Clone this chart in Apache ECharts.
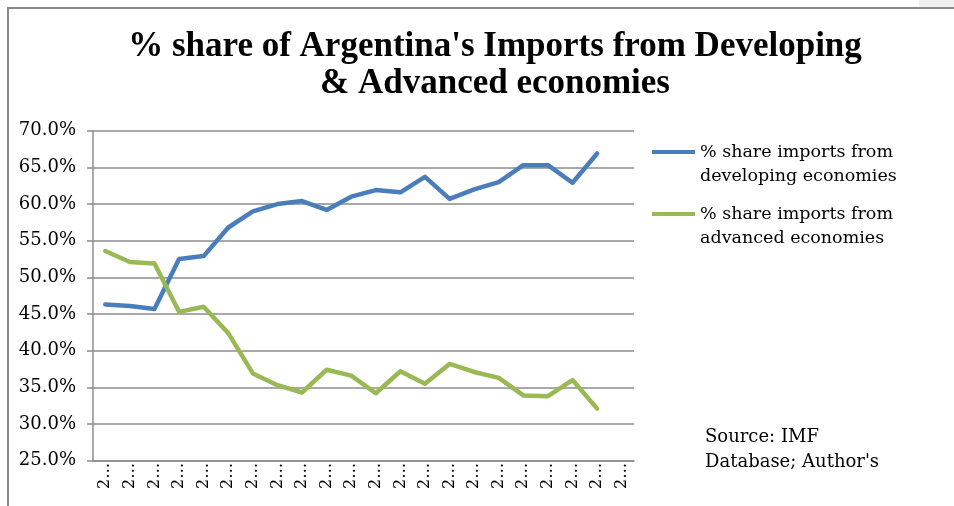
<!DOCTYPE html>
<html lang="en">
  <head>
    <meta charset="UTF-8" />
    <script src="https://cdn.jsdelivr.net/npm/echarts@6/dist/echarts.min.js"></script>
    <title>Argentina imports share</title>
    <style>
      html, body { margin: 0; padding: 0; background: #fff; }
      #container { width: 954px; height: 506px; }
    </style>
  </head>
  <body>
    <div id="container"></div>
    <script>
      // categories (years, shown truncated like the original)
      const years = [
        "2000", "2001", "2002", "2003", "2004", "2005", "2006", "2007",
        "2008", "2009", "2010", "2011", "2012", "2013", "2014", "2015",
        "2016", "2017", "2018", "2019", "2020", "2021",
      ];

      const developing = [
        46.3, 46.1, 45.7, 52.5, 52.9, 56.8, 59.0, 60.0, 60.4, 59.2, 61.0,
        61.9, 61.6, 63.7, 60.7, 62.0, 63.0, 65.3, 65.3, 62.9, 66.9,
      ];

      const advanced = [
        53.6, 52.1, 51.9, 45.3, 46.0, 42.4, 36.9, 35.3, 34.3, 37.4, 36.6,
        34.2, 37.2, 35.5, 38.2, 37.1, 36.3, 33.9, 33.8, 36.0, 32.1,
      ];

      const yTicks = { min: 25, max: 70, step: 5 };

      const nameDev = "% share imports from developing economies";
      const nameAdv = "% share imports from advanced economies";

      const serif = "DejaVu Serif";
      const gridColor = "#8c8c8c";

      const chart = echarts.init(document.getElementById("container"));

      // swatch drawn at the top of a taller box so it lines up with the first text line
      const legendBase = {
        orient: "vertical",
        left: 647,
        icon: "path://M0,0L43,0L43,4L0,4Z M0,28L0.01,28L0.01,28.01Z",
        itemWidth: 43,
        itemHeight: 28,
        itemGap: 0,
        selectedMode: false,
        formatter: (n) => n.replace(" from ", " from\n"),
        textStyle: {
          fontFamily: serif,
          fontSize: 17.5,
          color: "#000",
          lineHeight: 24,
        },
      };

      const option = {
        animation: false,
        title: [
          {
            text: "% share of Argentina's Imports from Developing\n& Advanced economies",
            left: 490,
            top: 23,
            textAlign: "center",
            textStyle: {
              fontFamily: "Liberation Serif",
              fontWeight: "bold",
              fontSize: 35,
              lineHeight: 37,
              color: "#000",
            },
          },
          {
            text: "Source: IMF\nDatabase; Author's",
            left: 700,
            top: 420,
            textStyle: {
              fontFamily: serif,
              fontWeight: "normal",
              fontSize: 18,
              lineHeight: 25,
              color: "#000",
            },
          },
        ],
        legend: [
          Object.assign({}, legendBase, { top: 135, data: [nameDev] }),
          Object.assign({}, legendBase, { top: 197, data: [nameAdv] }),
        ],
        graphic: [
          {
            type: "rect",
            shape: { x: 919, y: 0, width: 35, height: 8 },
            style: { fill: "#f0f0f0" },
          },
          {
            type: "polyline",
            shape: { points: [[8, 506], [8, 8], [954, 8]] },
            style: { stroke: "#8a8a8a", lineWidth: 2, fill: null },
          },
        ],
        grid: {
          left: 93,
          right: 320,
          top: 130.7,
          bottom: 45.3,
        },
        xAxis: {
          type: "category",
          data: years,
          boundaryGap: true,
          axisLine: { lineStyle: { color: gridColor, width: 1.5 } },
          axisTick: {
            alignWithLabel: false,
            length: 6,
            lineStyle: { color: gridColor, width: 1.5 },
          },
          axisLabel: {
            interval: 0,
            rotate: 90,
            margin: 2,
            fontFamily: serif,
            fontSize: 16,
            color: "#000",
            formatter: (v) => v.charAt(0) + "…",
          },
        },
        yAxis: {
          type: "value",
          min: yTicks.min,
          max: yTicks.max,
          interval: yTicks.step,
          axisLine: { show: true, lineStyle: { color: gridColor, width: 1.5 } },
          axisTick: {
            show: true,
            length: 6,
            lineStyle: { color: gridColor, width: 1.5 },
          },
          splitLine: { lineStyle: { color: gridColor, width: 1.5 } },
          axisLabel: {
            margin: 17,
            fontFamily: serif,
            fontSize: 18,
            color: "#000",
            formatter: (v) => v.toFixed(1) + "%",
          },
        },
        series: [
          {
            name: nameDev,
            type: "line",
            data: developing,
            symbol: "none",
            color: "#4a7ebb",
            lineStyle: { width: 4.5, color: "#4a7ebb", cap: "round", join: "round" },
          },
          {
            name: nameAdv,
            type: "line",
            data: advanced,
            symbol: "none",
            color: "#98b954",
            lineStyle: { width: 4.5, color: "#98b954", cap: "round", join: "round" },
          },
        ],
      };

      chart.setOption(option);
    </script>
  </body>
</html>
